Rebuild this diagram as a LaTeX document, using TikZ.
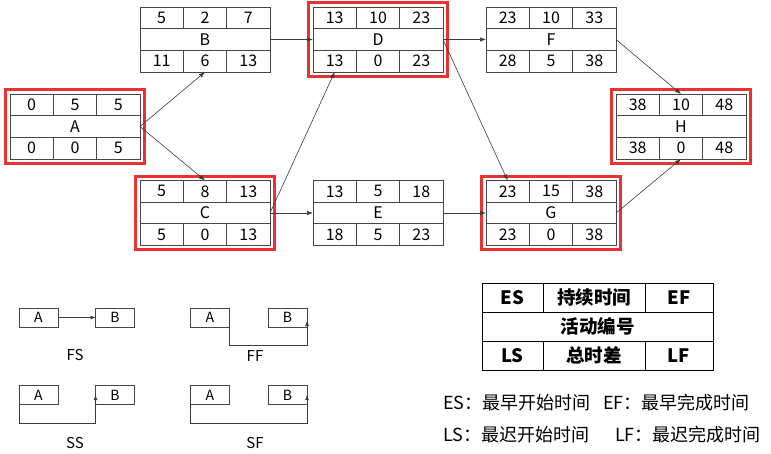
\documentclass[tikz,border=0pt]{standalone}
\usepackage{fontspec}
\setmainfont{Noto Sans CJK SC}
\usetikzlibrary{positioning,calc,arrows.meta}

\definecolor{boxgray}{RGB}{70,70,70}
\definecolor{critred}{RGB}{235,50,50}
\definecolor{linkgray}{RGB}{60,60,60}

\tikzset{
  cell/.style={draw=boxgray, line width=0.8pt, inner sep=0pt, outer sep=0pt, minimum width=43.33pt, minimum height=21.67pt, font=\fontsize{16}{16}\selectfont},
  namecell/.style={cell, minimum width=130pt},
  crit/.style={draw=critred, line width=3pt},
  link/.style={draw=linkgray, line width=0.6pt, -{Latex[length=6pt,width=4.5pt]}},
  relink/.style={link, -{Latex[length=5pt,width=4pt]}},
  relbox/.style={draw=boxgray, line width=0.6pt, inner sep=0pt, outer sep=0pt, minimum width=39pt, minimum height=19pt, font=\fontsize{14}{14}\selectfont},
  rellabel/.style={font=\fontsize{15}{15}\selectfont},
  keycell/.style={draw=black, line width=0.8pt, inner sep=0pt, outer sep=0pt, minimum height=29pt, font=\bfseries\fontsize{18.5}{18.5}\selectfont},
  keytext/.style={anchor=west, inner sep=0pt, font=\fontsize{18}{18}\selectfont},
}

% activity box: name, x, y, ES, duration, EF, LS, total float, LF
\newcommand{\activity}[9]{
  \node[namecell] (#1) at (#2,#3) {#1};
  \node[cell, above=0pt of #1] (#1-dur) {#5};
  \node[cell, left=0pt of #1-dur] (#1-es) {#4};
  \node[cell, right=0pt of #1-dur] (#1-ef) {#6};
  \node[cell, below=0pt of #1] (#1-tf) {#8};
  \node[cell, left=0pt of #1-tf] (#1-ls) {#7};
  \node[cell, right=0pt of #1-tf] (#1-lf) {#9};
}
% red frame round a critical activity
\newcommand{\critical}[1]{
  \draw[crit] ($(#1-es.north west)+(-4.5,-4)$) rectangle ($(#1-lf.south east)+(4.5,4)$);
}

\begin{document}
\begin{tikzpicture}[x=1pt, y=-1pt]
    \useasboundingbox (0,0) rectangle (771,453);

    % Activities: name/x/y/ES/duration/EF/LS/float/LF
    \foreach \nm/\x/\y/\es/\du/\ef/\ls/\tf/\lf in {A/75/126.5/0/5/5/0/0/5, B/205/39.5/5/2/7/11/6/13, C/205/213/5/8/13/5/0/13, D/378/39.5/13/10/23/13/0/23, E/378/213/13/5/18/18/5/23, F/551/39.5/23/10/33/28/5/38, G/551/213/23/15/38/23/0/38, H/681/126.5/38/10/48/38/0/48} {
        \activity{\nm}{\x}{\y}{\es}{\du}{\ef}{\ls}{\tf}{\lf}
    }
    \foreach \nm in {A,C,D,G,H} {
        \critical{\nm}
    }

    % Network links
    \draw[link] (A.east) -- (B-tf.south);
    \draw[link] (A.east) -- (C-dur.north);
    \draw[link] (B.east) -- (D.west);
    \draw[link] (C.east) -- (D-ls.south);
    \draw[link] (C.east) -- (E.west);
    \draw[link] (D.east) -- (F.west);
    \draw[link] (D.east) -- (G-es.north);
    \draw[link] (E.east) -- (G.west);
    \draw[link] (F.east) -- (H-dur.north);
    \draw[link] (G.east) -- (H-tf.south);

    % Dependency types
    \node[relbox] (fsA) at (38.5,317.5) {A};
    \node[relbox] (fsB) at (115,317.5) {B};
    \draw[relink] (fsA) -- (fsB);
    \node[rellabel] (fsL) at (75,355) {FS};

    \node[relbox] (ffA) at (210,317.5) {A};
    \node[relbox] (ffB) at (287.5,317.5) {B};
    \draw[relink] (ffA.east) -- ++(0,28) -| ($(ffB.south east)+(0,-6)$);
    \node[rellabel] (ffL) at (255,356) {FF};

    \node[relbox] (ssA) at (38.5,395) {A};
    \node[relbox] (ssB) at (115,395) {B};
    \draw[relink] (ssA.south west) -- ++(0,18.5) -| (ssB.west);
    \node[rellabel] (ssL) at (75,443) {SS};

    \node[relbox] (sfA) at (210,395) {A};
    \node[relbox] (sfB) at (287.5,395) {B};
    \draw[relink] (sfA.west) -- ++(0,28) -| (sfB.east);
    \node[rellabel] (sfL) at (255,443) {SF};

    % Key
    \node[keycell, minimum width=61pt] (kES) at (512.5,297.5) {ES};
    \node[keycell, minimum width=102pt] (kDur) at (594,297.5) {持续时间};
    \node[keycell, minimum width=68pt] (kEF) at (679,297.5) {EF};
    \node[keycell, minimum width=231pt] (kName) at (597.5,326.5) {活动编号};
    \node[keycell, minimum width=61pt] (kLS) at (512.5,355.5) {LS};
    \node[keycell, minimum width=102pt] (kTF) at (594,355.5) {总时差};
    \node[keycell, minimum width=68pt] (kLF) at (679,355.5) {LF};

    \node[keytext] (kt1) at (443,403) {ES：最早开始时间};
    \node[keytext] (kt2) at (603,403) {EF：最早完成时间};
    \node[keytext] (kt3) at (443,435) {LS：最迟开始时间};
    \node[keytext] (kt4) at (615,435) {LF：最迟完成时间};
\end{tikzpicture}
\end{document}
